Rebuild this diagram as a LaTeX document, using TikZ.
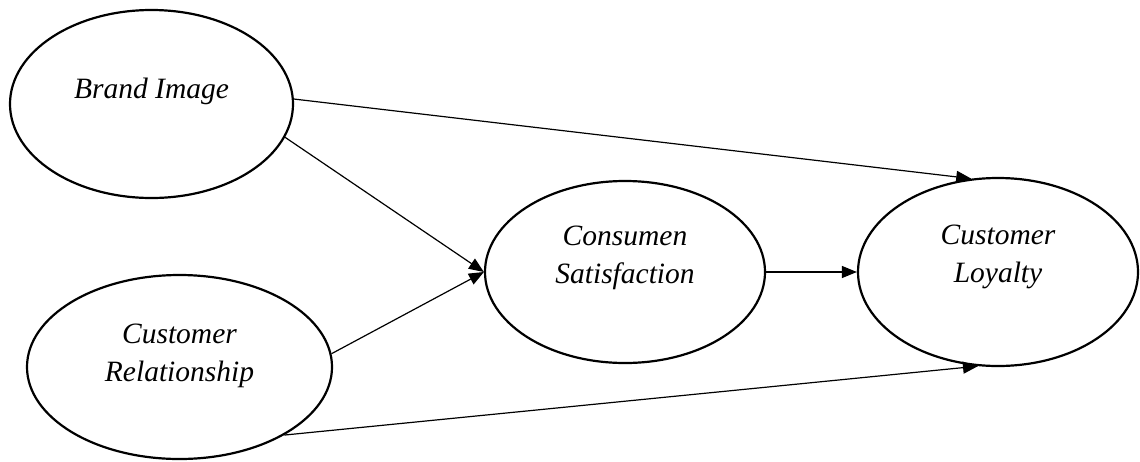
\documentclass[tikz,border=0pt]{standalone}
\usepackage{fontspec}
\setmainfont{Liberation Serif}
\usetikzlibrary{shapes.geometric,arrows.meta}
\begin{document}
\begin{tikzpicture}[x=1pt,y=-1pt,
  latent/.style={ellipse,draw,line width=2.2pt,inner sep=0pt},
  lbl/.style={align=center,font=\fontsize{29.5}{38}\selectfont\itshape},
  path/.style={line width=1.2pt,-{Triangle[length=15pt,width=12pt]}}]
\useasboundingbox (0,0) rectangle (1140,461);
\node[latent,minimum width=283pt,minimum height=188pt] (bi) at (151.5,104) {};
\node[latent,minimum width=305pt,minimum height=184pt] (cr) at (179.5,367) {};
\node[latent,minimum width=280pt,minimum height=182pt] (cs) at (625,272) {};
\node[latent,minimum width=280pt,minimum height=188pt] (cl) at (998,272) {};
\node[lbl] (bit) at (151.5,91) {Brand Image};
\node[lbl] (crt) at (179.5,356) {Customer\\Relationship};
\node[lbl] (cst) at (625,258) {Consumen\\Satisfaction};
\node[lbl] (clt) at (998,257) {Customer\\Loyalty};
\draw[path] (bi.2.4) -- (cl.106.8);
\draw[path] (bi.-14) -- (cs.west);
\draw[path] (cr.5.3) -- (cs.west);
\draw[path] (cr.-33.3) -- (cl.258);
\draw[path] (cs.east) -- (cl.west);
\end{tikzpicture}
\end{document}
